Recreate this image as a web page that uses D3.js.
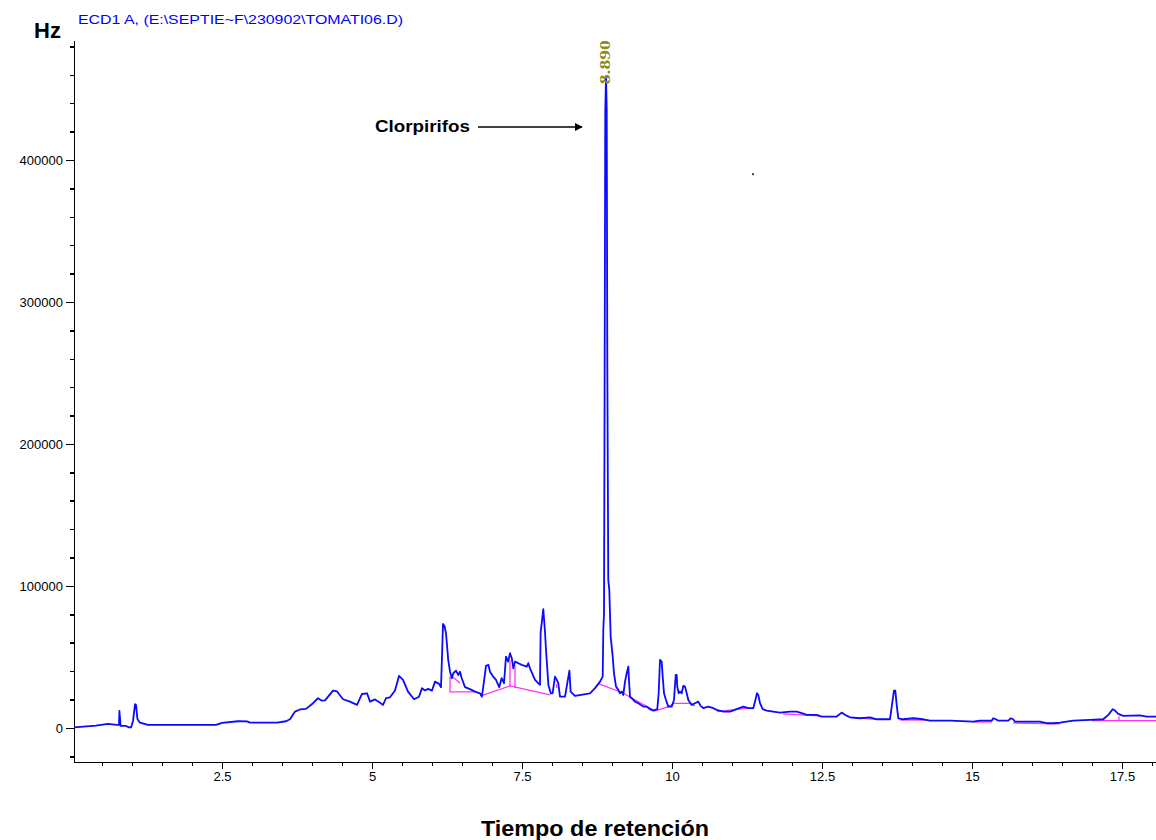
<!DOCTYPE html>
<html lang="es">
<head>
  <meta charset="UTF-8">
  <title>ECD1 A - TOMATI06</title>
  <style>
    body {
      margin: 0;
      padding: 0;
      background: #fff;
    }
    svg text {
      font-family: "Liberation Sans", Arial, sans-serif;
    }
    .axis path, .axis line {
      stroke: #000;
      stroke-width: 1.5;
      shape-rendering: crispEdges;
    }
    .axis text {
      font-size: 13px;
      fill: #000;
    }
  </style>
</head>
<body>
<svg width="1156" height="840"></svg>
<script src="https://d3js.org/d3.v7.min.js"></script>
<script>
// retention time (min) and detector signal (Hz)
const retTime = [
  0.033, 0.40, 0.60, 0.75, 0.783, 0.79, 0.81, 0.90, 0.95, 0.983, 1.017, 1.05, 1.067, 1.09, 1.133, 1.267,
  2.40, 2.50, 2.767, 2.917, 2.967, 3.417, 3.567, 3.633, 3.717, 3.80, 3.90, 4.017, 4.10, 4.167, 4.217,
  4.35, 4.417, 4.517, 4.633, 4.75, 4.833, 4.917, 4.967, 5.05, 5.133, 5.183, 5.233, 5.30, 5.383, 5.45,
  5.517, 5.60, 5.70, 5.783, 5.833, 5.883, 5.933, 6.00, 6.05, 6.117, 6.15, 6.17, 6.183, 6.208, 6.233,
  6.25, 6.27, 6.30, 6.33, 6.355, 6.40, 6.44, 6.467, 6.495, 6.55, 6.633, 6.717, 6.80, 6.83, 6.855, 6.90,
  6.94, 6.967, 7.02, 7.067, 7.12, 7.16, 7.20, 7.233, 7.27, 7.30, 7.33, 7.355, 7.383, 7.44, 7.495, 7.58,
  7.605, 7.633, 7.717, 7.80, 7.81, 7.855, 7.883, 7.90, 7.94, 7.98, 8.01, 8.05, 8.08, 8.105, 8.133, 8.217,
  8.29, 8.31, 8.383, 8.633, 8.717, 8.80, 8.845, 8.855, 8.867, 8.878, 8.888, 8.90, 8.912, 8.922, 8.938,
  8.955, 8.978, 9.012, 9.033, 9.067, 9.105, 9.133, 9.162, 9.188, 9.217, 9.245, 9.272, 9.283, 9.30, 9.328,
  9.383, 9.438, 9.522, 9.578, 9.633, 9.688, 9.755, 9.778, 9.80, 9.828, 9.845, 9.867, 9.90, 9.938, 9.995,
  10.033, 10.062, 10.078, 10.088, 10.112, 10.133, 10.162, 10.188, 10.217, 10.245, 10.272, 10.328, 10.383,
  10.438, 10.478, 10.522, 10.605, 10.688, 10.745, 10.855, 10.967, 11.078, 11.188, 11.272, 11.355, 11.383,
  11.417, 11.438, 11.467, 11.512, 11.578, 11.80, 11.967, 12.078, 12.162, 12.245, 12.412, 12.495, 12.745,
  12.828, 12.883, 12.967, 13.133, 13.30, 13.412, 13.633, 13.678, 13.70, 13.722, 13.745, 13.772, 13.855,
  14.022, 14.188, 14.30, 14.633, 15.022, 15.133, 15.328, 15.355, 15.40, 15.438, 15.605, 15.645, 15.688,
  15.717, 16.133, 16.245, 16.355, 16.467, 16.688, 16.967, 17.188, 17.272, 17.345, 17.383, 17.438, 17.522,
  17.80, 17.912, 18.067
];
const signal = [
  400, 1600, 2800, 2100, 2100, 12000, 1400, 1400, 350, 350, 4900, 16700, 16200, 6300, 3700, 2100,
  2100, 3500, 4700, 4600, 3700, 3700, 4700, 6100, 11500, 13000, 13400, 17400, 20900, 19200, 19400,
  26300, 25700, 20200, 18500, 16200, 23900, 24400, 18500, 20100, 17800, 16200, 20900, 21600, 26300, 36600,
  33800, 25600, 20200, 22000, 28000, 26400, 27500, 26300, 32600, 31000, 28700, 54900, 73200, 71800, 66700,
  58400, 47900, 39600, 35000, 38500, 40300, 37300, 39600, 35000, 28700, 27300, 25600, 24400, 22000, 29100, 43700,
  44400, 39600, 36100, 33800, 28700, 35000, 31500, 50200, 46700, 52600, 49100, 42000, 46700, 45600, 44400, 43200,
  45600, 42000, 33800, 30300, 66900, 83600, 67800, 54900, 30300, 24400, 24400, 36100, 33800, 31500, 22000, 22000,
  40300, 25600, 22500, 24400, 28000, 32600, 36100, 69000, 81000, 257700, 434500, 459000, 434500, 257700, 104200,
  97200, 64300, 50200, 38500, 29100, 26800, 24400, 25600, 23200, 32600, 38500, 43200, 33800, 22000, 20900,
  18500, 17400, 15000, 15000, 13200, 12200, 13200, 24400, 47900, 46700, 36100, 24400, 19700, 15000, 15000,
  19700, 37300, 37300, 29100, 24400, 25600, 24400, 29600, 29100, 24400, 19700, 16200, 17400,
  18500, 15500, 13900, 15000, 13900, 12700, 11500, 11500, 13200, 15000, 13900, 13900, 18500,
  24400, 23200, 17400, 13200, 12200, 10800, 11500, 11500, 10400, 9200, 9200, 8000, 8000,
  10800, 9200, 7500, 6800, 7500, 6100, 6100, 19700, 26300, 26300, 16200, 6800, 6100,
  6800, 6100, 5100, 5100, 4400, 5100, 5100, 6800, 6100, 5100, 5100, 6800, 6100,
  4400, 4400, 3300, 3300, 3700, 5100, 5600, 6100, 9200, 13200, 12200, 9900, 8500,
  8900, 8000, 8000
];
// integration baselines drawn by the data system, [time, Hz] pairs
const baselineSegs = [
  [[6.30, 35900], [6.30, 25400], [6.75, 25400]],
  [[6.355, 35700], [6.467, 31500]],
  [[6.817, 22500], [7.30, 29600], [7.967, 23200]],
  [[7.30, 29600], [7.30, 47900]],
  [[7.383, 44400], [7.383, 28200]],
  [[8.078, 28200], [8.078, 31000]],
  [[8.783, 31000], [9.183, 24600], [9.50, 16900], [9.717, 12000], [9.933, 14800], [10.033, 17300], [10.30, 17300], [10.383, 15500]],
  [[10.75, 11500], [11.25, 13900]],
  [[11.85, 9900], [12.467, 8500]],
  [[12.967, 7400], [13.40, 6000]],
  [[13.80, 5600], [14.25, 5600]],
  [[15.017, 4200], [15.333, 4200]],
  [[15.683, 3500], [16.467, 2800]],
  [[17.00, 5100], [18.067, 5100]],
  [[17.45, 8000], [17.45, 5100]]
];

const xMajorTicks = [2.5, 5, 7.5, 10, 12.5, 15, 17.5];
const xTickLabels = ["2.5", "5", "7.5", "10", "12.5", "15", "17.5"];
const yMajorTicks = [0, 100000, 200000, 300000, 400000];

const peakTime = 8.890;
const peakHeight = 459000;
const peakName = "Clorpirifos";
const strayDot = [11.35, 390000];

const titleText = "ECD1 A, (E:\\SEPTIE~F\\230902\\TOMATI06.D)";

const svg = d3.select("svg");

const x = d3.scaleLinear().domain([0.033, 18.067]).range([74, 1156]);
const y = d3.scaleLinear().domain([-24000, 484500]).range([762, 40]);

// minor ticks first, majors on top
const xMinor = d3.range(0.5, 18.01, 0.5).filter(t => xMajorTicks.indexOf(t) < 0);
svg.append("g")
  .attr("class", "axis")
  .attr("transform", "translate(0," + y(-24000) + ")")
  .call(d3.axisBottom(x).tickValues(xMinor).tickSize(4).tickSizeOuter(0).tickFormat(""));

svg.append("g")
  .attr("class", "axis")
  .attr("transform", "translate(0," + y(-24000) + ")")
  .call(d3.axisBottom(x).tickValues(xMajorTicks).tickSize(7).tickSizeOuter(0).tickPadding(3)
    .tickFormat((d, i) => xTickLabels[i]));

const yMinor = d3.range(-20000, 480001, 20000).filter(v => yMajorTicks.indexOf(v) < 0);
svg.append("g")
  .attr("class", "axis")
  .attr("transform", "translate(" + x(0.033) + ",0)")
  .call(d3.axisLeft(y).tickValues(yMinor).tickSize(4).tickSizeOuter(0).tickFormat(""));

svg.append("g")
  .attr("class", "axis")
  .attr("transform", "translate(" + x(0.033) + ",0)")
  .call(d3.axisLeft(y).tickValues(yMajorTicks).tickSize(8).tickSizeOuter(0).tickPadding(3)
    .tickFormat(d3.format("d")));

// baselines under the trace
const line = d3.line().x(d => x(d[0])).y(d => y(d[1]));
svg.append("g")
  .selectAll("path")
  .data(baselineSegs)
  .join("path")
  .attr("d", line)
  .attr("fill", "none")
  .attr("stroke", "#ff33ee")
  .attr("stroke-width", 1.3);

const trace = retTime.map((t, i) => [t, signal[i]]);
svg.append("path")
  .datum(trace)
  .attr("d", line)
  .attr("fill", "none")
  .attr("stroke", "#0a0aff")
  .attr("stroke-width", 1.8)
  .attr("stroke-linejoin", "round");

// peak retention time label
svg.append("text")
  .attr("transform", "translate(" + (x(peakTime) + 5) + "," + (y(peakHeight) + 8) + ") rotate(-90)")
  .attr("text-anchor", "start")
  .attr("font-size", 15)
  .attr("font-weight", "bold")
  .attr("fill", "#8c8c1a")
  .attr("textLength", 44)
  .attr("lengthAdjust", "spacingAndGlyphs")
  .style("font-family", "'Liberation Serif', serif")
  .text(peakTime.toFixed(3));

// compound annotation with arrow
svg.append("defs").append("marker")
  .attr("id", "arrow")
  .attr("viewBox", "0 0 10 10")
  .attr("refX", 9).attr("refY", 5)
  .attr("markerWidth", 8).attr("markerHeight", 8)
  .attr("markerUnits", "userSpaceOnUse")
  .attr("orient", "auto")
  .append("path")
  .attr("d", "M0,0 L10,5 L0,10 z")
  .attr("fill", "#000");

svg.append("text")
  .attr("x", 375).attr("y", 132)
  .attr("font-size", 17)
  .attr("font-weight", "bold")
  .attr("textLength", 95)
  .attr("lengthAdjust", "spacingAndGlyphs")
  .text(peakName);

svg.append("line")
  .attr("x1", 478).attr("y1", 127)
  .attr("x2", 582).attr("y2", 127)
  .attr("stroke", "#000")
  .attr("stroke-width", 1.5)
  .attr("marker-end", "url(#arrow)");

svg.append("rect")
  .attr("x", x(strayDot[0]) - 1).attr("y", y(strayDot[1]) - 1)
  .attr("width", 2).attr("height", 2)
  .attr("fill", "#444");

// titles
svg.append("text")
  .attr("x", 34).attr("y", 38)
  .attr("font-size", 22)
  .attr("font-weight", "bold")
  .text("Hz");

svg.append("text")
  .attr("x", 78).attr("y", 24)
  .attr("font-size", 12)
  .attr("fill", "#0000ff")
  .attr("textLength", 325)
  .attr("lengthAdjust", "spacingAndGlyphs")
  .text(titleText);

svg.append("text")
  .attr("x", 481).attr("y", 836)
  .attr("font-size", 22)
  .attr("font-weight", "bold")
  .attr("textLength", 228)
  .attr("lengthAdjust", "spacingAndGlyphs")
  .text("Tiempo de retención");
</script>
</body>
</html>
